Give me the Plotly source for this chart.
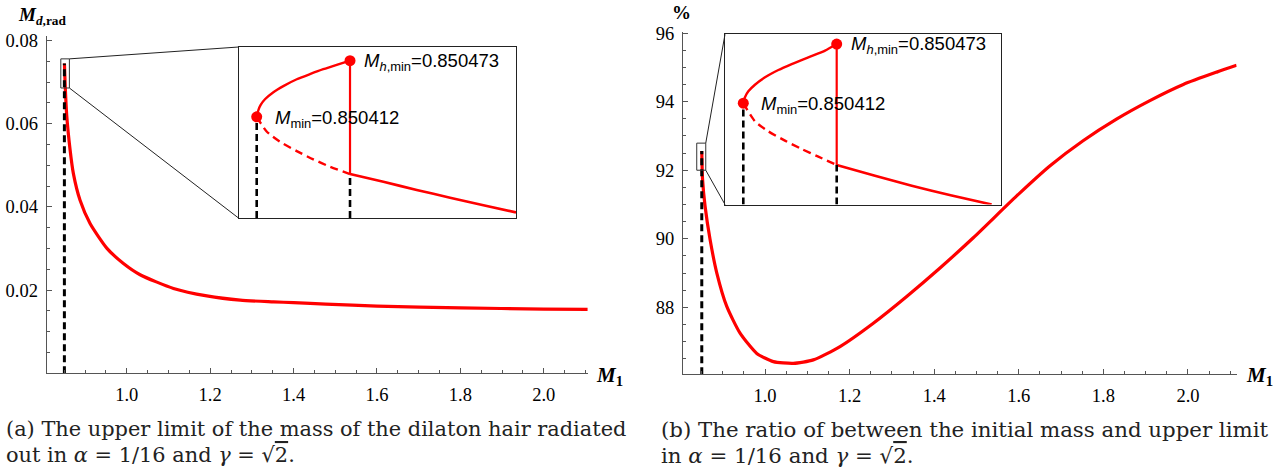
import plotly.graph_objects as go

W, H = 1283, 468

# ---------------- data ----------------
# panel (a): upper limit of radiated dilaton-hair mass
M1_A = [0.8505, 0.852, 0.856, 0.864, 0.872, 0.888, 0.912, 0.952, 0.992, 1.032,
        1.112, 1.192, 1.272, 1.352, 1.40, 1.477, 1.6, 1.8, 2.0, 2.105]
MD_RAD = [0.0745, 0.0700, 0.0620, 0.0538, 0.0480, 0.0416, 0.0360, 0.0301, 0.0264, 0.0237,
          0.0204, 0.01860, 0.01758, 0.01718, 0.01698, 0.01663, 0.01615, 0.01575, 0.01543, 0.01536]

# panel (b): ratio in percent
M1_B = [0.8504, 0.8522, 0.8582, 0.8700, 0.8858, 0.9095, 0.9409, 0.9804, 1.0196, 1.0669,
        1.1142, 1.1773, 1.2560, 1.3350, 1.4137, 1.4924, 1.595, 1.674, 1.752, 1.831,
        1.910, 1.989, 2.068, 2.115]
RATIO = [92.56, 91.74, 90.95, 89.98, 89.01, 88.03, 87.25, 86.66, 86.42, 86.37,
         86.47, 86.86, 87.54, 88.32, 89.15, 90.03, 91.25, 92.13, 92.86, 93.49,
         94.03, 94.50, 94.86, 95.06]

M_MIN = 0.850412
M_H_MIN = 0.850473

# insets: mass offsets in units of 1e-6 from INSET_M0
INSET_M0 = 0.8504
DM_UP_A = [12, 13.1, 14.6, 17.4, 22.9, 29.4, 38.2, 46.8, 55.5, 64.3, 73]
MD_UP_A = [0.07274, 0.07302, 0.07323, 0.07346, 0.07375, 0.07400, 0.07428, 0.07449,
           0.07469, 0.07487, 0.07504]
DM_DASH_A = [12, 18.5, 27.2, 38.2, 49.0, 59.9, 73]
MD_DASH_A = [0.07274, 0.07214, 0.07172, 0.07134, 0.07100, 0.07070, 0.07040]
DM_LOW_A = [73, 94.8, 116.6, 138.4, 160.2, 181.5]
MD_LOW_A = [0.07040, 0.07008, 0.06975, 0.06943, 0.06912, 0.06883]

DM_UP_B = [12, 13.1, 15.3, 19.6, 26.2, 34.9, 43.6, 54.5, 65.4, 73]
PCT_UP_B = [92.476, 92.504, 92.532, 92.563, 92.598, 92.632, 92.660, 92.692, 92.723, 92.754]
DM_DASH_B = [12, 19.6, 28.3, 39.2, 50.1, 61.0, 73]
PCT_DASH_B = [92.476, 92.391, 92.344, 92.300, 92.261, 92.225, 92.186]
DM_LOW_B = [73, 98.0, 122.0, 148.1, 174.2]
PCT_LOW_B = [92.186, 92.135, 92.088, 92.042, 92.000]

Y_TICKS_A = [0.02, 0.04, 0.06, 0.08]
Y_TEXT_A = ["0.02", "0.04", "0.06", "0.08"]
Y_TICKS_B = [88, 90, 92, 94, 96]
Y_TEXT_B = ["88", "90", "92", "94", "96"]

CAPTION_A = ["(a) The upper limit of the mass of the dilaton hair radiated",
             "out in <i>α</i> = 1/16 and <i>γ</i> = √<span style='text-decoration:overline'>2</span>."]
CAPTION_B = ["(b) The ratio of between the initial mass and upper limit",
             "in <i>α</i> = 1/16 and <i>γ</i> = √<span style='text-decoration:overline'>2</span>."]

# zoom boxes on main plots (data units)
ZOOM_A = dict(x0=0.8418, x1=0.8624, y0=0.0686, y1=0.0756)
ZOOM_B = dict(x0=0.8385, x1=0.8598, y0=92.0, y1=92.79)


def inset_m(dm):
    return [INSET_M0 + d * 1e-6 for d in dm]


# ---------------- layout geometry (pixels) ----------------
def dx(p0, p1):
    return [p0 / W, p1 / W]


def dy(top, bottom):
    return [1 - bottom / H, 1 - top / H]


XR_A, XD_A = [0.808, 2.106], dx(46.7, 588)
YR_A, YD_A = [0.0, 0.0811], dy(36.0, 373.3)
XR_B, XD_B = [0.806, 2.115], dx(683, 1236.6)
YR_B, YD_B = [86.05, 96.03], dy(32.0, 374.3)
XR_IA, XD_IA = [INSET_M0 + 0.1e-6, INSET_M0 + 181.5e-6], dx(238.5, 516)
YR_IA, YD_IA = [0.0686, 0.0756], dy(47, 218)
XR_IB, XD_IB = [INSET_M0 + 0.05e-6, INSET_M0 + 180.3e-6], dx(725, 1001)
YR_IB, YD_IB = [92.0, 92.8], dy(34.3, 204.5)


def px(v, r, d):
    return d[0] + (v - r[0]) / (r[1] - r[0]) * (d[1] - d[0])


RED = "#ff0000"
AX = "#555555"
SERIF = "Liberation Serif"
SANS = "Liberation Sans"

fig = go.Figure()

# ---- panel (a)
fig.add_trace(go.Scatter(x=M1_A, y=MD_RAD, mode="lines", xaxis="x", yaxis="y",
                         line=dict(color=RED, width=3.2, shape="spline", smoothing=0.6)))
fig.add_trace(go.Scatter(x=[M_MIN, M_MIN], y=[YR_A[0], MD_RAD[0]], mode="lines", xaxis="x", yaxis="y",
                         line=dict(color="black", width=3, dash="7px,4px")))
# ---- panel (b)
fig.add_trace(go.Scatter(x=M1_B, y=RATIO, mode="lines", xaxis="x2", yaxis="y2",
                         line=dict(color=RED, width=3.2, shape="spline", smoothing=0.6)))
fig.add_trace(go.Scatter(x=[M_MIN, M_MIN], y=[YR_B[0], RATIO[0]], mode="lines", xaxis="x2", yaxis="y2",
                         line=dict(color="black", width=3, dash="7px,4px")))


def add_inset(xa, ya, dm_up, v_up, dm_dash, v_dash, dm_low, v_low, ybot):
    xu, xd, xl = inset_m(dm_up), inset_m(dm_dash), inset_m(dm_low)
    fig.add_trace(go.Scatter(x=xu, y=v_up, mode="lines", xaxis=xa, yaxis=ya,
                             line=dict(color=RED, width=2.4, shape="spline", smoothing=0.6)))
    fig.add_trace(go.Scatter(x=xd, y=v_dash, mode="lines", xaxis=xa, yaxis=ya,
                             line=dict(color=RED, width=2.4, dash="8px,5px", shape="spline", smoothing=0.6)))
    fig.add_trace(go.Scatter(x=xl, y=v_low, mode="lines", xaxis=xa, yaxis=ya,
                             line=dict(color=RED, width=2.6, shape="spline", smoothing=0.6)))
    fig.add_trace(go.Scatter(x=[xu[-1], xu[-1]], y=[v_up[-1], v_low[0]], mode="lines", xaxis=xa, yaxis=ya,
                             line=dict(color=RED, width=2.2)))
    fig.add_trace(go.Scatter(x=[xu[0], xu[0]], y=[ybot, v_up[0]], mode="lines", xaxis=xa, yaxis=ya,
                             line=dict(color="black", width=2.6, dash="7px,4px")))
    fig.add_trace(go.Scatter(x=[xl[0], xl[0]], y=[ybot, v_low[0]], mode="lines", xaxis=xa, yaxis=ya,
                             line=dict(color="black", width=2.6, dash="7px,4px")))
    fig.add_trace(go.Scatter(x=[xu[0], xu[-1]], y=[v_up[0], v_up[-1]], mode="markers", xaxis=xa, yaxis=ya,
                             marker=dict(color=RED, size=11), cliponaxis=False))


add_inset("x3", "y3", DM_UP_A, MD_UP_A, DM_DASH_A, MD_DASH_A, DM_LOW_A, MD_LOW_A, YR_IA[0])
add_inset("x4", "y4", DM_UP_B, PCT_UP_B, DM_DASH_B, PCT_DASH_B, DM_LOW_B, PCT_LOW_B, YR_IB[0])

main_x = dict(showline=True, linecolor=AX, linewidth=1.2, ticks="inside", ticklen=5, tickwidth=1,
              tickcolor=AX, showgrid=False, zeroline=False, dtick=0.2, tick0=1.0, tickformat=".1f",
              tickfont=dict(family=SERIF, size=18.5, color="black"), ticklabelstandoff=4,
              automargin=False,
              minor=dict(dtick=0.05, tick0=1.0, ticks="inside", ticklen=3, tickcolor=AX))
main_y = dict(showline=True, linecolor=AX, linewidth=1.2, ticks="inside", ticklen=5, tickwidth=1,
              tickcolor=AX, showgrid=False, zeroline=False, tickmode="array", automargin=False,
              tickfont=dict(family=SERIF, size=18.5, color="black"), ticklabelstandoff=4)
inset_ax = dict(showline=True, mirror=True, linecolor="#222222", linewidth=1.4, ticks="",
                showticklabels=False, showgrid=False, zeroline=False, automargin=False)

fig.update_layout(
    width=W, height=H, margin=dict(l=0, r=0, t=0, b=0, pad=0, autoexpand=False),
    paper_bgcolor="white", plot_bgcolor="white", showlegend=False,
    xaxis=dict(main_x, domain=XD_A, range=XR_A, anchor="y"),
    yaxis=dict(main_y, domain=YD_A, range=YR_A, anchor="x", tickvals=Y_TICKS_A, ticktext=Y_TEXT_A,
               minor=dict(dtick=0.005, tick0=0, ticks="inside", ticklen=3, tickcolor=AX)),
    xaxis2=dict(main_x, domain=XD_B, range=XR_B, anchor="y2"),
    yaxis2=dict(main_y, domain=YD_B, range=YR_B, anchor="x2", tickvals=Y_TICKS_B, ticktext=Y_TEXT_B,
                minor=dict(dtick=0.5, tick0=86, ticks="inside", ticklen=3, tickcolor=AX)),
    xaxis3=dict(inset_ax, domain=XD_IA, range=XR_IA, anchor="y3"),
    yaxis3=dict(inset_ax, domain=YD_IA, range=YR_IA, anchor="x3"),
    xaxis4=dict(inset_ax, domain=XD_IB, range=XR_IB, anchor="y4"),
    yaxis4=dict(inset_ax, domain=YD_IB, range=YR_IB, anchor="x4"),
)

shapes = []
for z, xr, xd_, yr, yd_, xa, ya, ixd, iyd in [
        (ZOOM_A, XR_A, XD_A, YR_A, YD_A, "x", "y", XD_IA, YD_IA),
        (ZOOM_B, XR_B, XD_B, YR_B, YD_B, "x2", "y2", XD_IB, YD_IB)]:
    shapes.append(dict(type="rect", xref=xa, yref=ya, x0=z["x0"], x1=z["x1"], y0=z["y0"], y1=z["y1"],
                       line=dict(color="#333333", width=1)))
    cx = px(z["x1"], xr, xd_)
    shapes.append(dict(type="line", xref="paper", yref="paper", x0=cx, y0=px(z["y1"], yr, yd_),
                       x1=ixd[0], y1=iyd[1], line=dict(color="#222222", width=1)))
    shapes.append(dict(type="line", xref="paper", yref="paper", x0=cx, y0=px(z["y0"], yr, yd_),
                       x1=ixd[0], y1=iyd[0], line=dict(color="#222222", width=1)))
fig.update_layout(shapes=shapes)

ann = []
lab_font = dict(family=SANS, size=18.5, color="black")
for xa, ya, yup in [("x3", "y3", MD_UP_A), ("x4", "y4", PCT_UP_B)]:
    ann.append(dict(xref=xa, yref=ya, x=M_MIN, y=yup[0], xanchor="left", yanchor="middle",
                    xshift=16, yshift=-2, showarrow=False, font=lab_font,
                    text=f"<i>M</i><sub>min</sub>={M_MIN:.6f}"))
    ann.append(dict(xref=xa, yref=ya, x=M_H_MIN, y=yup[-1], xanchor="left", yanchor="middle",
                    xshift=12, yshift=-1, showarrow=False, font=lab_font,
                    text=f"<i>M</i><sub><i>h</i>,min</sub>={M_H_MIN:.6f}"))

for x0, lines, fs in [(4, CAPTION_A, 20.9), (659, CAPTION_B, 21.3)]:
    for i, t in enumerate(lines):
        ann.append(dict(xref="paper", yref="paper", x=x0 / W, y=1 - (429 + 26 * i) / H,
                        xanchor="left", yanchor="middle", showarrow=False,
                        font=dict(family="DejaVu Serif", size=fs, color="#222222"), text=t))

ax_font = dict(family=SERIF, size=19, color="black")
ann.append(dict(xref="paper", yref="paper", x=16 / W, y=1 - 16 / H, xanchor="left", yanchor="middle",
                showarrow=False, font=ax_font, text="<b><i>M</i></b><sub><b><i>d</i>,rad</b></sub>"))
ann.append(dict(xref="paper", yref="paper", x=681 / W, y=1 - 12 / H, xanchor="center", yanchor="middle",
                showarrow=False, font=ax_font, text="<b>%</b>"))
for x0 in [594, 1244]:
    ann.append(dict(xref="paper", yref="paper", x=x0 / W, y=1 - 376 / H, xanchor="left", yanchor="middle",
                    showarrow=False, font=dict(family=SERIF, size=21, color="black"),
                    text="<b><i>M</i></b><sub><b>1</b></sub>"))
fig.update_layout(annotations=ann)

fig.write_html("out.html", config={"displayModeBar": False},
               post_script="document.body.style.margin='0px';")
